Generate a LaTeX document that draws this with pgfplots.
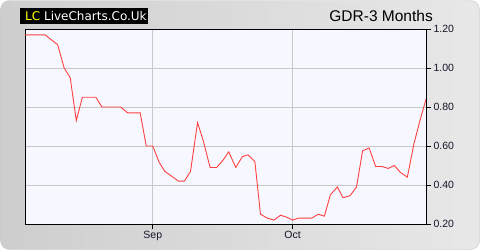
\documentclass[border=0pt]{standalone}
\usepackage{pgfplots}
\pgfplotsset{compat=1.18}
\usepackage{fontspec}
\setmainfont{Liberation Sans}
\newfontfamily\logofont{DejaVu Sans}
\definecolor{bgA}{RGB}{206,206,206}
\definecolor{bgB}{RGB}{232,232,232}
\definecolor{frameC}{RGB}{200,200,200}
\definecolor{plotbg}{RGB}{247,248,255}
\definecolor{gridC}{RGB}{200,200,200}
\definecolor{lineC}{RGB}{255,64,64}
\definecolor{lblC}{RGB}{20,20,40}
\definecolor{logoY}{RGB}{255,255,0}
\begin{document}
\begin{tikzpicture}
\useasboundingbox (0pt,0pt) rectangle (480pt,250pt);
\fill[white] (0pt,0pt) rectangle (480pt,250pt);
\shade[left color=bgA, right color=bgB, draw=frameC, rounded corners=9pt] (0.5pt,0.5pt) rectangle (479.5pt,249.5pt);
\begin{axis}[
  at={(25pt,26pt)}, anchor=south west,
  scale only axis, width=401pt, height=195pt,
  xmin=-27.4, xmax=58.6, ymin=0.2, ymax=1.2,
  axis background/.style={fill=plotbg},
  axis line style={black, line width=0.8pt},
  xtick={0,30}, xticklabels={Sep,Oct},
  ytick={0.2,0.4,0.6,0.8,1.0,1.2},
  xtick pos=bottom, ytick pos=right, yticklabel pos=right,
  tick align=outside, major tick length=5pt,
  tick style={black, line width=0.8pt},
  grid=major, major grid style={gridC, line width=0.8pt},
  ticklabel style={font=\fontsize{10.5}{12}\selectfont, text=lblC},
  /pgf/number format/assume math mode=true,
  yticklabel style={/pgf/number format/fixed, /pgf/number format/fixed zerofill, /pgf/number format/precision=2, xshift=-1pt},
  xticklabel style={yshift=1pt},
]
\addplot[lineC, line width=0.9pt, mark=none] coordinates {
(-27.4,1.17) (-23.1,1.17) (-20.4,1.12) (-19.0,1.00) (-17.7,0.95) (-16.4,0.73)
(-15.1,0.85) (-12.2,0.85) (-10.9,0.80) (-6.9,0.80) (-5.4,0.77) (-2.7,0.77)
(-1.4,0.60) (0.0,0.60) (1.4,0.515) (2.6,0.47) (5.5,0.42) (6.8,0.42)
(8.1,0.47) (9.6,0.72) (10.8,0.63) (12.3,0.49) (13.7,0.49) (15.0,0.525)
(16.3,0.57) (17.8,0.49) (19.2,0.545) (20.4,0.555) (21.9,0.52) (23.1,0.25)
(24.6,0.23) (26.0,0.22) (27.4,0.245) (28.7,0.235) (30.0,0.22) (31.2,0.23)
(34.1,0.23) (35.5,0.25) (36.8,0.24) (38.1,0.35) (39.6,0.39) (40.8,0.335)
(42.3,0.345) (43.7,0.39) (45.0,0.575) (46.4,0.59) (47.8,0.495) (49.1,0.495)
(50.5,0.485) (51.8,0.50) (53.1,0.465) (54.6,0.44) (56.0,0.61) (57.3,0.73)
(58.6,0.84)
};
\end{axis}
% logo
\fill[black] (20pt,226pt) rectangle (148pt,242pt);
\node[anchor=base west, inner sep=0pt, font=\logofont\fontsize{12}{14}\selectfont] at (25pt,229.5pt) {\textcolor{logoY}{LC} \textcolor{white}{LiveCharts.Co.Uk}};
% title
\node[anchor=base east, inner sep=0pt, font=\fontsize{15.5}{18}\selectfont] at (433pt,229pt) {GDR-3 Months};
\end{tikzpicture}
\end{document}
